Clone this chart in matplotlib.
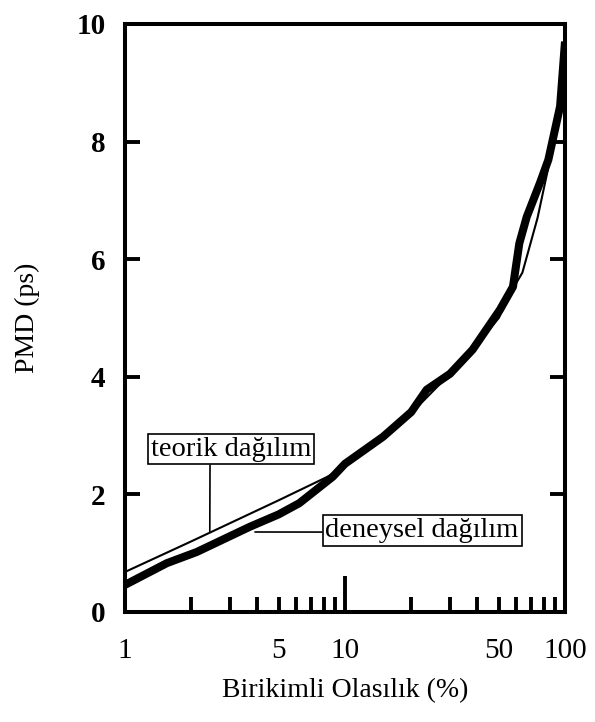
import matplotlib
matplotlib.use('Agg')
import matplotlib.pyplot as plt

# deneysel (thick) and teorik (thin) PMD distributions
exp_x = [1, 1.55, 2.12, 3.7, 5.0, 6.2, 8.8, 10, 14.9, 20, 23.5, 30, 38, 50.6, 58, 62, 67, 77, 84, 95, 100]
exp_y = [0.46, 0.83, 1.02, 1.45, 1.66, 1.85, 2.3, 2.52, 2.98, 3.4, 3.78, 4.05, 4.46, 5.14, 5.53, 6.27, 6.72, 7.3, 7.69, 8.6, 9.7]
teo_x = [1, 2, 5, 8.55, 10, 15, 20, 30, 38, 50, 58, 64, 75, 83, 95, 100]
teo_y = [0.68, 1.2, 1.9, 2.32, 2.52, 2.98, 3.38, 4.05, 4.46, 5.0, 5.5, 5.77, 6.7, 7.47, 8.6, 9.7]

x_labels = [1, 5, 10, 50, 100]
x_minor = [2, 3, 4, 6, 7, 8, 9, 20, 30, 40, 60, 70, 80, 90]
y_ticks = [0, 2, 4, 6, 8, 10]

plt.rcParams['font.family'] = ['Liberation Serif', 'DejaVu Serif']

fig = plt.figure(figsize=(5.95, 7.22), dpi=100)
ax = fig.add_axes([0.21, 0.1524, 0.7396, 0.8144])

ax.plot(teo_x, teo_y, color='black', lw=1.5, zorder=3)
ax.plot(exp_x, exp_y, color='black', lw=5.8, solid_capstyle='butt', zorder=2)

ax.set_xscale('log')
ax.set_xlim(1, 100)
ax.set_ylim(0, 10)

ax.set_xticks(x_labels)
ax.set_xticklabels([str(v) for v in x_labels])
ax.set_xticks(x_minor, minor=True)
ax.set_xticklabels([], minor=True)
ax.set_yticks(y_ticks)

ax.tick_params(axis='x', which='both', direction='in', length=11, width=2.8,
               top=False, bottom=True, labelsize=21, pad=19)
ax.tick_params(axis='y', which='both', direction='in', length=11, width=2.8,
               left=True, right=True, labelsize=21, pad=14)
for lbl in ax.get_yticklabels():
    lbl.set_fontweight('bold')
# long tick at 10
ax.xaxis.get_major_ticks()[2].tick1line.set_markersize(26)

for sp in ax.spines.values():
    sp.set_linewidth(2.9)

ax.set_xlabel('Birikimli Olasılık (%)', fontsize=20, labelpad=10)
ax.set_ylabel('PMD (ps)', fontsize=20, labelpad=26)

box = dict(boxstyle='square,pad=0.1', fc='white', ec='black', lw=1.2)
ax.annotate('teorik dağılım', xy=(2.43, 1.37), xytext=(3.03, 2.77),
            fontsize=20.5, ha='center', va='center', bbox=box,
            arrowprops=dict(arrowstyle='-', color='black', lw=1.2,
                            shrinkA=0, shrinkB=0, relpos=(0.37, 0)))
ax.annotate('deneysel dağılım', xy=(3.9, 1.36), xytext=(22.4, 1.38),
            fontsize=20.5, ha='center', va='center', bbox=box,
            arrowprops=dict(arrowstyle='-', color='black', lw=1.2,
                            shrinkA=0, shrinkB=0, relpos=(0, 0.45)))

fig.savefig('out.png', dpi=100)
